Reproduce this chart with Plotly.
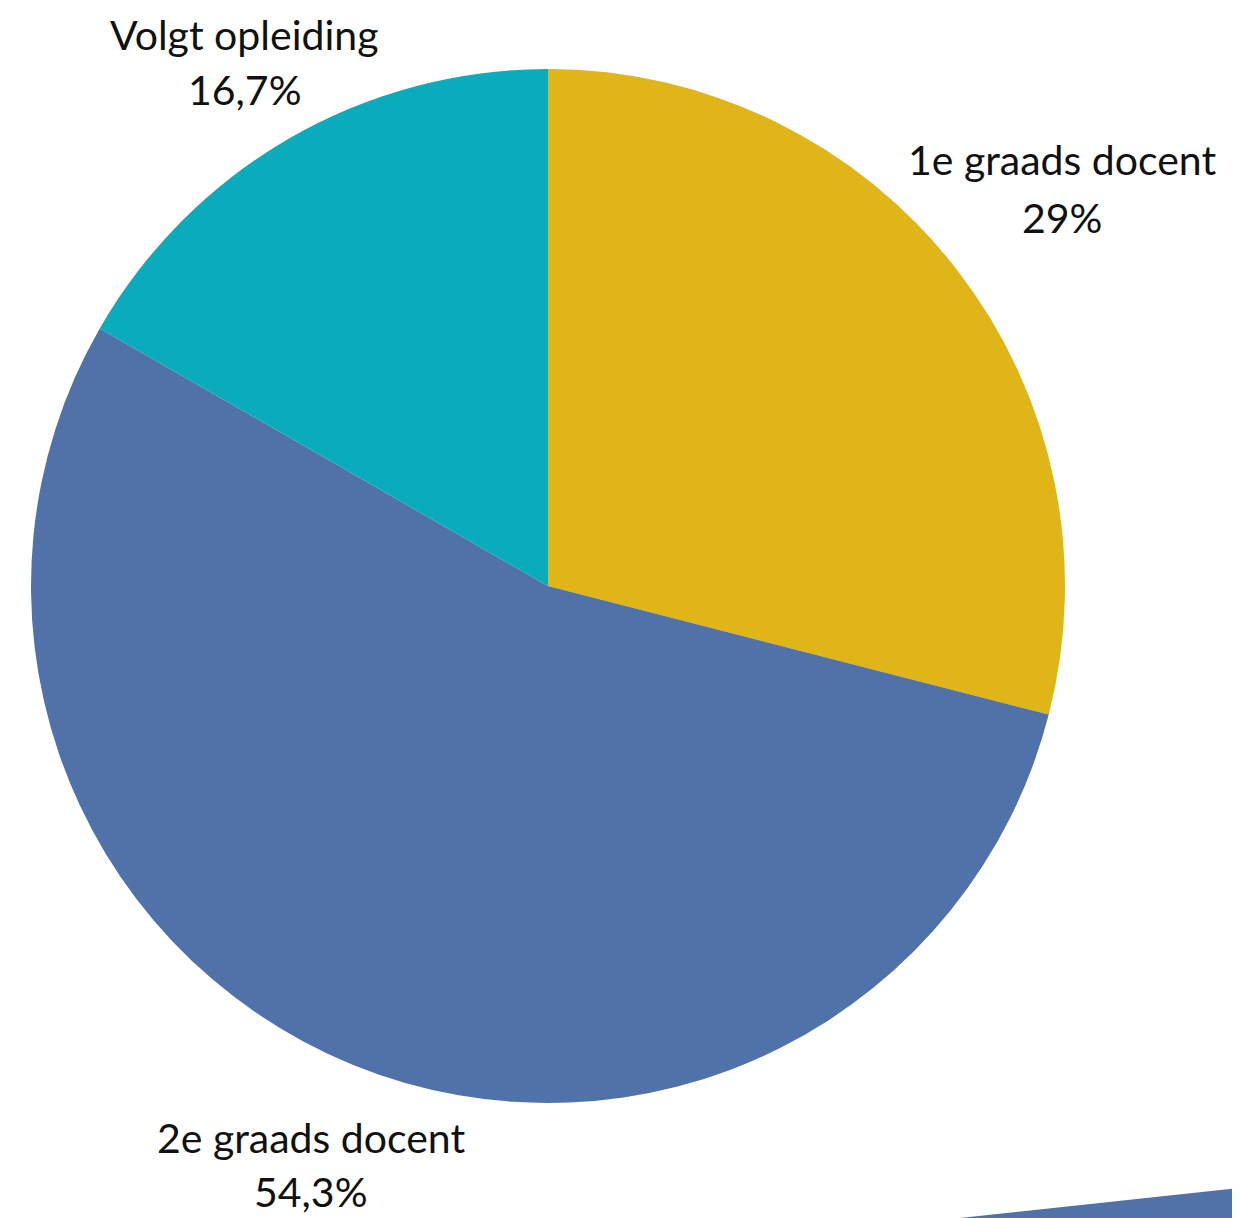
import plotly.graph_objects as go

categories = ["1e graads docent", "2e graads docent", "Volgt opleiding"]
values = [29, 54.3, 16.7]
colors = ["#E0B518", "#5172A8", "#0AABBD"]

# label anchor positions in screen pixels (center of text): name line y, pct line y
label_x = [1062, 311, 245]
label_y_name = [160, 1137, 35]
label_y_pct = [217, 1191, 90]

OFF = 8  # page body margin
W, H = 1240 - OFF, 1218 - OFF

def px(x):
    return (x - OFF) / W

def py(y):
    return 1 - (y - OFF) / H

def fmt(v):
    return ("%g" % v).replace(".", ",") + "%"

fig = go.Figure(go.Pie(
    labels=categories,
    values=values,
    marker=dict(colors=colors, line=dict(width=0)),
    sort=False,
    direction="clockwise",
    rotation=0,
    textinfo="none",
    hoverinfo="label+percent",
    domain=dict(x=[px(31), px(1065)], y=[py(1103), py(69)]),
    showlegend=False,
))

font = dict(family="Lato, 'Noto Sans', sans-serif", size=41, color="#111111")
anns = []
for c, v, x, yn, yp in zip(categories, values, label_x, label_y_name, label_y_pct):
    anns.append(dict(text=c, x=px(x), y=py(yn), xref="paper", yref="paper",
                     xanchor="center", yanchor="middle", showarrow=False, font=font))
    anns.append(dict(text=fmt(v), x=px(x), y=py(yp), xref="paper", yref="paper",
                     xanchor="center", yanchor="middle", showarrow=False, font=font))

fig.update_layout(
    width=W, height=H,
    margin=dict(l=0, r=0, t=0, b=0),
    paper_bgcolor="white",
    plot_bgcolor="white",
    annotations=anns,
    shapes=[dict(type="path", xref="paper", yref="paper",
                 path="M %f,0 L 1,%f L 1,0 Z" % (px(960), py(1188)),
                 fillcolor="#5172A8", line=dict(width=0), layer="above")],
)

fig.write_html("out.html")
